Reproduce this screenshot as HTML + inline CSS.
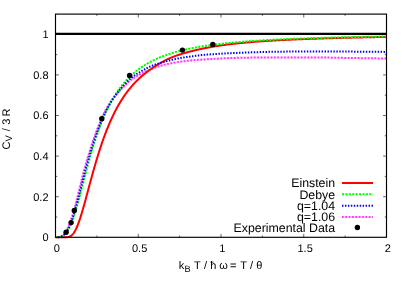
<!DOCTYPE html>
<html>
<head>
<meta charset="utf-8">
<title>Heat capacity</title>
<style>
html,body{margin:0;padding:0;background:#fff;}
body{width:407px;height:285px;overflow:hidden;font-family:"Liberation Sans",sans-serif;}
svg{display:block;}
text{font-family:"Liberation Sans",sans-serif;fill:#000;text-rendering:geometricPrecision;}
</style>
</head>
<body>
<svg width="407" height="285" viewBox="0 0 407 285" style="will-change:transform;transform:translateZ(0)">
<rect x="0" y="0" width="407" height="285" fill="#ffffff"/>
<!-- minor/major ticks -->
<g stroke="#000" stroke-width="0.6" fill="none">
<path d="M55.50 217.00h1.8M386.50 217.00h-1.8"/>
<path d="M55.50 196.70h3.4M386.50 196.70h-3.4"/>
<path d="M55.50 176.40h1.8M386.50 176.40h-1.8"/>
<path d="M55.50 156.10h3.4M386.50 156.10h-3.4"/>
<path d="M55.50 135.80h1.8M386.50 135.80h-1.8"/>
<path d="M55.50 115.50h3.4M386.50 115.50h-3.4"/>
<path d="M55.50 95.20h1.8M386.50 95.20h-1.8"/>
<path d="M55.50 74.90h3.4M386.50 74.90h-3.4"/>
<path d="M55.50 54.60h1.8M386.50 54.60h-1.8"/>
<path d="M55.50 34.30h3.4M386.50 34.30h-3.4"/>
<path d="M96.88 237.30v-1.8M96.88 14.10v1.8"/>
<path d="M138.25 237.30v-3.4M138.25 14.10v3.4"/>
<path d="M179.62 237.30v-1.8M179.62 14.10v1.8"/>
<path d="M221.00 237.30v-3.4M221.00 14.10v3.4"/>
<path d="M262.38 237.30v-1.8M262.38 14.10v1.8"/>
<path d="M303.75 237.30v-3.4M303.75 14.10v3.4"/>
<path d="M345.12 237.30v-1.8M345.12 14.10v1.8"/>
</g>
<!-- curves -->
<g fill="none" stroke-width="2" stroke-linejoin="round">
<path d="M55.50 33.8H386.50" stroke="#000" stroke-width="2.2"/>
<path d="M57.93 237.20L58.40 237.18L58.87 237.11L59.34 237.00L59.81 236.87L60.28 236.70L60.75 236.51L61.22 236.31L61.69 236.09L62.16 235.87L62.63 235.58L63.10 235.20L63.57 234.77L64.04 234.31L64.51 233.77L64.98 233.17L65.45 232.49L65.92 231.73L66.39 230.88L66.86 229.93L67.33 228.86L67.80 227.78L68.27 226.78L68.74 225.73L69.21 224.61L69.68 223.45L70.16 222.22L70.63 220.93L71.10 219.58L71.57 218.18L72.04 216.73L72.51 215.23L72.98 213.69L73.45 212.09L73.92 210.46L74.39 208.78L74.86 207.07L75.33 205.33L75.80 203.55L76.27 201.75L76.74 199.92L77.21 198.08L77.68 196.21L78.15 194.33L78.62 192.44L79.09 190.53L79.56 188.62L80.03 186.71L80.50 184.79L80.97 182.88L81.44 180.97L81.91 179.06L82.38 177.15L82.85 175.26L83.32 173.38L83.79 171.50L84.26 169.64L84.73 167.82L85.20 166.17L85.67 164.54L86.14 162.92L86.61 161.31L87.08 159.72L87.55 158.14L88.02 156.57L88.49 155.02L88.96 153.49L89.43 151.97L89.90 150.46L90.37 148.97L90.84 147.50L91.31 146.05L91.78 144.61L92.25 143.19L92.72 141.78L93.19 140.40L93.66 139.03L94.13 137.67L94.60 136.34L95.07 135.02L95.54 133.72L96.01 132.43L96.48 131.17L96.95 129.92L97.42 128.68L97.89 127.47L98.36 126.27L98.83 125.09L99.30 123.92L99.77 122.77L100.24 121.64L100.71 120.53L101.18 119.43L101.65 118.34L102.12 117.27L102.59 116.22L103.06 115.19L103.53 114.16L104.00 113.15L104.47 112.18L104.94 111.31L105.41 110.48L105.88 109.67L106.35 108.86L106.82 108.06L107.29 107.27L107.76 106.49L108.23 105.72L108.70 104.96L109.17 104.20L109.64 103.46L110.11 102.72L110.58 101.99L111.05 101.26L111.52 100.57L111.99 99.91L112.46 99.29L112.93 98.71L113.40 98.15L113.87 97.58L114.34 97.02L114.81 96.46L115.28 95.90L115.75 95.35L116.22 94.81L116.69 94.27L117.16 93.73L117.63 93.20L118.10 92.68L118.57 92.16L119.04 91.64L119.51 91.13L119.98 90.62L120.45 90.12L120.92 89.62L121.39 89.13L121.86 88.64L122.33 88.16L122.80 87.67L123.27 87.20L123.74 86.73L124.21 86.26L124.68 85.80L125.15 85.34L125.62 84.89L126.09 84.44L126.56 83.99L127.03 83.53L127.50 83.07L127.97 82.60L128.44 82.13L128.91 81.69L129.38 81.27L129.85 80.88L130.32 80.51L130.79 80.16L131.26 79.82L131.73 79.50L132.20 79.18L132.67 78.87L133.14 78.56L133.61 78.26L134.08 77.96L134.55 77.66L135.02 77.36L135.49 77.06L135.96 76.77L136.43 76.47L136.90 76.19L137.37 75.90L137.84 75.62L138.31 75.34L138.78 75.07L139.25 74.81L139.72 74.55L140.19 74.30L140.66 74.05L141.13 73.81L141.60 73.56L142.07 73.33L142.54 73.09L143.01 72.86L143.48 72.63L143.95 72.40L144.42 72.18L144.89 71.96L145.36 71.74L145.83 71.52L146.30 71.31L146.77 71.10L147.24 70.89L147.71 70.68L148.18 70.47L148.65 70.27L149.12 70.07L149.59 69.87L150.06 69.67L150.53 69.48L151.00 69.28L151.47 69.08L151.94 68.89L152.41 68.69L152.88 68.50L153.35 68.31L153.82 68.12L154.29 67.94L154.76 67.75L155.23 67.57L155.70 67.39L156.17 67.22L156.64 67.05L157.11 66.88L157.58 66.72L158.05 66.56L158.52 66.40L158.99 66.25L159.46 66.11L159.93 65.97L160.41 65.84L160.88 65.70L161.35 65.57L161.82 65.44L162.29 65.32L162.76 65.20L163.23 65.08L163.70 64.96L164.17 64.84L164.64 64.73L165.11 64.62L165.58 64.51L166.05 64.40L166.52 64.29L166.99 64.19L167.46 64.08L167.93 63.98L168.40 63.88L168.87 63.78L169.34 63.68L169.81 63.58L170.28 63.48L170.75 63.38L171.22 63.29L171.69 63.19L172.16 63.10L172.63 63.00L173.10 62.91L173.57 62.82L174.04 62.73L174.51 62.64L174.98 62.55L175.45 62.47L175.92 62.38L176.39 62.30L176.86 62.22L177.33 62.14L177.80 62.06L178.27 61.99L178.74 61.91L179.21 61.84L179.68 61.77L180.15 61.71L180.62 61.64L181.09 61.57L181.56 61.51L182.03 61.44L182.50 61.38L182.97 61.32L183.44 61.26L183.91 61.20L184.38 61.14L184.85 61.08L185.32 61.03L185.79 60.97L186.26 60.92L186.73 60.87L187.20 60.81L187.67 60.76L188.14 60.72L188.61 60.67L189.08 60.62L189.55 60.58L190.02 60.53L190.49 60.49L190.96 60.45L191.43 60.40L191.90 60.36L192.37 60.32L192.84 60.28L193.31 60.24L193.78 60.20L194.25 60.16L194.72 60.12L195.19 60.09L195.66 60.05L196.13 60.01L196.60 59.98L197.07 59.94L197.54 59.91L198.01 59.87L198.48 59.84L198.95 59.80L199.42 59.77L199.89 59.74L200.36 59.71L200.83 59.68L201.30 59.65L201.77 59.61L202.24 59.58L202.71 59.55L203.18 59.53L203.65 59.50L204.12 59.47L204.59 59.44L205.06 59.41L205.53 59.38L206.00 59.35L206.47 59.32L206.94 59.30L207.41 59.27L207.88 59.24L208.35 59.21L208.82 59.18L209.29 59.15L209.76 59.12L210.23 59.10L210.70 59.07L211.17 59.04L211.64 59.01L212.11 58.98L212.58 58.95L213.05 58.93L213.52 58.90L213.99 58.87L214.46 58.84L214.93 58.82L215.40 58.79L215.87 58.76L216.34 58.73L216.81 58.71L217.28 58.68L217.75 58.65L218.22 58.63L218.69 58.60L219.16 58.58L219.63 58.55L220.10 58.53L220.57 58.50L221.04 58.48L221.51 58.45L221.98 58.43L222.45 58.40L222.92 58.38L223.39 58.36L223.86 58.33L224.33 58.31L224.80 58.29L225.27 58.27L225.74 58.24L226.21 58.22L226.68 58.20L227.15 58.18L227.62 58.16L228.09 58.14L228.56 58.12L229.03 58.10L229.50 58.08L229.97 58.06L230.44 58.05L230.91 58.03L231.38 58.01L231.85 58.00L232.32 57.98L232.79 57.96L233.26 57.95L233.73 57.93L234.20 57.92L234.67 57.91L235.14 57.89L235.61 57.88L236.08 57.87L236.55 57.86L237.02 57.85L237.49 57.83L237.96 57.83L238.43 57.82L238.90 57.81L239.37 57.80L239.84 57.79L240.31 57.78L240.78 57.78L241.25 57.77L241.72 57.76L242.19 57.75L242.66 57.74L243.13 57.74L243.60 57.73L244.07 57.72L244.54 57.71L245.01 57.71L245.48 57.70L245.95 57.69L246.42 57.68L246.89 57.68L247.36 57.67L247.83 57.66L248.30 57.66L248.77 57.65L249.24 57.64L249.71 57.64L250.18 57.63L250.65 57.62L251.13 57.62L251.60 57.61L252.07 57.60L252.54 57.60L253.01 57.59L253.48 57.58L253.95 57.58L254.42 57.57L254.89 57.56L255.36 57.56L255.83 57.55L256.30 57.55L256.77 57.54L257.24 57.54L257.71 57.53L258.18 57.53L258.65 57.52L259.12 57.51L259.59 57.51L260.06 57.50L260.53 57.50L261.00 57.50L261.47 57.49L261.94 57.49L262.41 57.48L262.88 57.48L263.35 57.47L263.82 57.47L264.29 57.46L264.76 57.46L265.23 57.46L265.70 57.45L266.17 57.45L266.64 57.45L267.11 57.44L267.58 57.44L268.05 57.44L268.52 57.43L268.99 57.43L269.46 57.43L269.93 57.42L270.40 57.42L270.87 57.42L271.34 57.42L271.81 57.42L272.28 57.41L272.75 57.41L273.22 57.41L273.69 57.41L274.16 57.41L274.63 57.41L275.10 57.40L275.57 57.40L276.04 57.40L276.51 57.40L276.98 57.40L277.45 57.40L277.92 57.40L278.39 57.40L278.86 57.40L279.33 57.40L279.80 57.40L280.27 57.40L280.74 57.40L281.21 57.40L281.68 57.40L282.15 57.40L282.62 57.40L283.09 57.40L283.56 57.40L284.03 57.40L284.50 57.40L284.97 57.40L285.44 57.40L285.91 57.40L286.38 57.40L286.85 57.40L287.32 57.40L287.79 57.40L288.26 57.40L288.73 57.40L289.20 57.40L289.67 57.40L290.14 57.40L290.61 57.40L291.08 57.40L291.55 57.40L292.02 57.40L292.49 57.40L292.96 57.40L293.43 57.40L293.90 57.40L294.37 57.40L294.84 57.40L295.31 57.40L295.78 57.40L296.25 57.40L296.72 57.40L297.19 57.40L297.66 57.40L298.13 57.40L298.60 57.40L299.07 57.40L299.54 57.40L300.01 57.40L300.48 57.40L300.95 57.40L301.42 57.40L301.89 57.40L302.36 57.40L302.83 57.40L303.30 57.40L303.77 57.40L304.24 57.40L304.71 57.40L305.18 57.40L305.65 57.40L306.12 57.40L306.59 57.40L307.06 57.40L307.53 57.40L308.00 57.40L308.47 57.40L308.94 57.40L309.41 57.40L309.88 57.40L310.35 57.40L310.82 57.40L311.29 57.40L311.76 57.40L312.23 57.40L312.70 57.41L313.17 57.41L313.64 57.41L314.11 57.41L314.58 57.42L315.05 57.42L315.52 57.42L315.99 57.43L316.46 57.43L316.93 57.43L317.40 57.44L317.87 57.44L318.34 57.45L318.81 57.45L319.28 57.46L319.75 57.46L320.22 57.47L320.69 57.48L321.16 57.48L321.63 57.49L322.10 57.50L322.57 57.50L323.04 57.51L323.51 57.52L323.98 57.52L324.45 57.53L324.92 57.54L325.39 57.55L325.86 57.55L326.33 57.56L326.80 57.57L327.27 57.58L327.74 57.59L328.21 57.60L328.68 57.60L329.15 57.61L329.62 57.62L330.09 57.63L330.56 57.64L331.03 57.65L331.50 57.66L331.97 57.67L332.44 57.68L332.91 57.68L333.38 57.69L333.85 57.70L334.32 57.71L334.79 57.72L335.26 57.73L335.73 57.74L336.20 57.75L336.67 57.76L337.14 57.77L337.61 57.78L338.08 57.79L338.55 57.80L339.02 57.81L339.49 57.82L339.96 57.83L340.43 57.83L340.90 57.84L341.38 57.85L341.85 57.86L342.32 57.87L342.79 57.88L343.26 57.89L343.73 57.90L344.20 57.91L344.67 57.91L345.14 57.92L345.61 57.93L346.08 57.94L346.55 57.95L347.02 57.95L347.49 57.96L347.96 57.97L348.43 57.98L348.90 57.98L349.37 57.99L349.84 58.00L350.31 58.00L350.78 58.01L351.25 58.02L351.72 58.02L352.19 58.03L352.66 58.04L353.13 58.04L353.60 58.05L354.07 58.06L354.54 58.06L355.01 58.07L355.48 58.08L355.95 58.08L356.42 58.09L356.89 58.10L357.36 58.10L357.83 58.11L358.30 58.12L358.77 58.12L359.24 58.13L359.71 58.14L360.18 58.14L360.65 58.15L361.12 58.16L361.59 58.16L362.06 58.17L362.53 58.18L363.00 58.18L363.47 58.19L363.94 58.20L364.41 58.20L364.88 58.21L365.35 58.22L365.82 58.22L366.29 58.23L366.76 58.24L367.23 58.24L367.70 58.25L368.17 58.25L368.64 58.26L369.11 58.27L369.58 58.27L370.05 58.28L370.52 58.29L370.99 58.29L371.46 58.30L371.93 58.31L372.40 58.31L372.87 58.32L373.34 58.32L373.81 58.33L374.28 58.34L374.75 58.34L375.22 58.35L375.69 58.36L376.16 58.36L376.63 58.37L377.10 58.38L377.57 58.38L378.04 58.39L378.51 58.39L378.98 58.40L379.45 58.41L379.92 58.41L380.39 58.42L380.86 58.43L381.33 58.43L381.80 58.44L382.27 58.44L382.74 58.45L383.21 58.46L383.68 58.46L384.15 58.47L384.62 58.48L385.09 58.48L385.56 58.49L386.03 58.49L386.50 58.50" stroke="#ff00ff" stroke-opacity="0.22"/>
<path d="M57.93 237.20L58.40 237.18L58.87 237.11L59.34 237.00L59.81 236.87L60.28 236.70L60.75 236.51L61.22 236.31L61.69 236.09L62.16 235.87L62.63 235.58L63.10 235.20L63.57 234.77L64.04 234.31L64.51 233.77L64.98 233.17L65.45 232.49L65.92 231.73L66.39 230.88L66.86 229.93L67.33 228.86L67.80 227.78L68.27 226.78L68.74 225.73L69.21 224.61L69.68 223.45L70.16 222.22L70.63 220.93L71.10 219.58L71.57 218.18L72.04 216.73L72.51 215.23L72.98 213.69L73.45 212.09L73.92 210.46L74.39 208.78L74.86 207.07L75.33 205.33L75.80 203.55L76.27 201.75L76.74 199.92L77.21 198.08L77.68 196.21L78.15 194.33L78.62 192.44L79.09 190.53L79.56 188.62L80.03 186.71L80.50 184.79L80.97 182.88L81.44 180.97L81.91 179.06L82.38 177.15L82.85 175.26L83.32 173.38L83.79 171.50L84.26 169.64L84.73 167.82L85.20 166.17L85.67 164.54L86.14 162.92L86.61 161.31L87.08 159.72L87.55 158.14L88.02 156.57L88.49 155.02L88.96 153.49L89.43 151.97L89.90 150.46L90.37 148.97L90.84 147.50L91.31 146.05L91.78 144.61L92.25 143.19L92.72 141.78L93.19 140.40L93.66 139.03L94.13 137.67L94.60 136.34L95.07 135.02L95.54 133.72L96.01 132.43L96.48 131.17L96.95 129.92L97.42 128.68L97.89 127.47L98.36 126.27L98.83 125.09L99.30 123.92L99.77 122.77L100.24 121.64L100.71 120.53L101.18 119.43L101.65 118.34L102.12 117.27L102.59 116.22L103.06 115.19L103.53 114.16L104.00 113.15L104.47 112.18L104.94 111.31L105.41 110.48L105.88 109.67L106.35 108.86L106.82 108.06L107.29 107.27L107.76 106.49L108.23 105.72L108.70 104.96L109.17 104.20L109.64 103.46L110.11 102.72L110.58 101.99L111.05 101.26L111.52 100.57L111.99 99.91L112.46 99.29L112.93 98.71L113.40 98.15L113.87 97.58L114.34 97.02L114.81 96.46L115.28 95.90L115.75 95.35L116.22 94.81L116.69 94.27L117.16 93.73L117.63 93.20L118.10 92.68L118.57 92.16L119.04 91.64L119.51 91.13L119.98 90.62L120.45 90.12L120.92 89.62L121.39 89.13L121.86 88.64L122.33 88.16L122.80 87.67L123.27 87.20L123.74 86.73L124.21 86.26L124.68 85.80L125.15 85.34L125.62 84.89L126.09 84.44L126.56 83.99L127.03 83.53L127.50 83.07L127.97 82.60L128.44 82.13L128.91 81.69L129.38 81.27L129.85 80.88L130.32 80.51L130.79 80.16L131.26 79.82L131.73 79.50L132.20 79.18L132.67 78.87L133.14 78.56L133.61 78.26L134.08 77.96L134.55 77.66L135.02 77.36L135.49 77.06L135.96 76.77L136.43 76.47L136.90 76.19L137.37 75.90L137.84 75.62L138.31 75.34L138.78 75.07L139.25 74.81L139.72 74.55L140.19 74.30L140.66 74.05L141.13 73.81L141.60 73.56L142.07 73.33L142.54 73.09L143.01 72.86L143.48 72.63L143.95 72.40L144.42 72.18L144.89 71.96L145.36 71.74L145.83 71.52L146.30 71.31L146.77 71.10L147.24 70.89L147.71 70.68L148.18 70.47L148.65 70.27L149.12 70.07L149.59 69.87L150.06 69.67L150.53 69.48L151.00 69.28L151.47 69.08L151.94 68.89L152.41 68.69L152.88 68.50L153.35 68.31L153.82 68.12L154.29 67.94L154.76 67.75L155.23 67.57L155.70 67.39L156.17 67.22L156.64 67.05L157.11 66.88L157.58 66.72L158.05 66.56L158.52 66.40L158.99 66.25L159.46 66.11L159.93 65.97L160.41 65.84L160.88 65.70L161.35 65.57L161.82 65.44L162.29 65.32L162.76 65.20L163.23 65.08L163.70 64.96L164.17 64.84L164.64 64.73L165.11 64.62L165.58 64.51L166.05 64.40L166.52 64.29L166.99 64.19L167.46 64.08L167.93 63.98L168.40 63.88L168.87 63.78L169.34 63.68L169.81 63.58L170.28 63.48L170.75 63.38L171.22 63.29L171.69 63.19L172.16 63.10L172.63 63.00L173.10 62.91L173.57 62.82L174.04 62.73L174.51 62.64L174.98 62.55L175.45 62.47L175.92 62.38L176.39 62.30L176.86 62.22L177.33 62.14L177.80 62.06L178.27 61.99L178.74 61.91L179.21 61.84L179.68 61.77L180.15 61.71L180.62 61.64L181.09 61.57L181.56 61.51L182.03 61.44L182.50 61.38L182.97 61.32L183.44 61.26L183.91 61.20L184.38 61.14L184.85 61.08L185.32 61.03L185.79 60.97L186.26 60.92L186.73 60.87L187.20 60.81L187.67 60.76L188.14 60.72L188.61 60.67L189.08 60.62L189.55 60.58L190.02 60.53L190.49 60.49L190.96 60.45L191.43 60.40L191.90 60.36L192.37 60.32L192.84 60.28L193.31 60.24L193.78 60.20L194.25 60.16L194.72 60.12L195.19 60.09L195.66 60.05L196.13 60.01L196.60 59.98L197.07 59.94L197.54 59.91L198.01 59.87L198.48 59.84L198.95 59.80L199.42 59.77L199.89 59.74L200.36 59.71L200.83 59.68L201.30 59.65L201.77 59.61L202.24 59.58L202.71 59.55L203.18 59.53L203.65 59.50L204.12 59.47L204.59 59.44L205.06 59.41L205.53 59.38L206.00 59.35L206.47 59.32L206.94 59.30L207.41 59.27L207.88 59.24L208.35 59.21L208.82 59.18L209.29 59.15L209.76 59.12L210.23 59.10L210.70 59.07L211.17 59.04L211.64 59.01L212.11 58.98L212.58 58.95L213.05 58.93L213.52 58.90L213.99 58.87L214.46 58.84L214.93 58.82L215.40 58.79L215.87 58.76L216.34 58.73L216.81 58.71L217.28 58.68L217.75 58.65L218.22 58.63L218.69 58.60L219.16 58.58L219.63 58.55L220.10 58.53L220.57 58.50L221.04 58.48L221.51 58.45L221.98 58.43L222.45 58.40L222.92 58.38L223.39 58.36L223.86 58.33L224.33 58.31L224.80 58.29L225.27 58.27L225.74 58.24L226.21 58.22L226.68 58.20L227.15 58.18L227.62 58.16L228.09 58.14L228.56 58.12L229.03 58.10L229.50 58.08L229.97 58.06L230.44 58.05L230.91 58.03L231.38 58.01L231.85 58.00L232.32 57.98L232.79 57.96L233.26 57.95L233.73 57.93L234.20 57.92L234.67 57.91L235.14 57.89L235.61 57.88L236.08 57.87L236.55 57.86L237.02 57.85L237.49 57.83L237.96 57.83L238.43 57.82L238.90 57.81L239.37 57.80L239.84 57.79L240.31 57.78L240.78 57.78L241.25 57.77L241.72 57.76L242.19 57.75L242.66 57.74L243.13 57.74L243.60 57.73L244.07 57.72L244.54 57.71L245.01 57.71L245.48 57.70L245.95 57.69L246.42 57.68L246.89 57.68L247.36 57.67L247.83 57.66L248.30 57.66L248.77 57.65L249.24 57.64L249.71 57.64L250.18 57.63L250.65 57.62L251.13 57.62L251.60 57.61L252.07 57.60L252.54 57.60L253.01 57.59L253.48 57.58L253.95 57.58L254.42 57.57L254.89 57.56L255.36 57.56L255.83 57.55L256.30 57.55L256.77 57.54L257.24 57.54L257.71 57.53L258.18 57.53L258.65 57.52L259.12 57.51L259.59 57.51L260.06 57.50L260.53 57.50L261.00 57.50L261.47 57.49L261.94 57.49L262.41 57.48L262.88 57.48L263.35 57.47L263.82 57.47L264.29 57.46L264.76 57.46L265.23 57.46L265.70 57.45L266.17 57.45L266.64 57.45L267.11 57.44L267.58 57.44L268.05 57.44L268.52 57.43L268.99 57.43L269.46 57.43L269.93 57.42L270.40 57.42L270.87 57.42L271.34 57.42L271.81 57.42L272.28 57.41L272.75 57.41L273.22 57.41L273.69 57.41L274.16 57.41L274.63 57.41L275.10 57.40L275.57 57.40L276.04 57.40L276.51 57.40L276.98 57.40L277.45 57.40L277.92 57.40L278.39 57.40L278.86 57.40L279.33 57.40L279.80 57.40L280.27 57.40L280.74 57.40L281.21 57.40L281.68 57.40L282.15 57.40L282.62 57.40L283.09 57.40L283.56 57.40L284.03 57.40L284.50 57.40L284.97 57.40L285.44 57.40L285.91 57.40L286.38 57.40L286.85 57.40L287.32 57.40L287.79 57.40L288.26 57.40L288.73 57.40L289.20 57.40L289.67 57.40L290.14 57.40L290.61 57.40L291.08 57.40L291.55 57.40L292.02 57.40L292.49 57.40L292.96 57.40L293.43 57.40L293.90 57.40L294.37 57.40L294.84 57.40L295.31 57.40L295.78 57.40L296.25 57.40L296.72 57.40L297.19 57.40L297.66 57.40L298.13 57.40L298.60 57.40L299.07 57.40L299.54 57.40L300.01 57.40L300.48 57.40L300.95 57.40L301.42 57.40L301.89 57.40L302.36 57.40L302.83 57.40L303.30 57.40L303.77 57.40L304.24 57.40L304.71 57.40L305.18 57.40L305.65 57.40L306.12 57.40L306.59 57.40L307.06 57.40L307.53 57.40L308.00 57.40L308.47 57.40L308.94 57.40L309.41 57.40L309.88 57.40L310.35 57.40L310.82 57.40L311.29 57.40L311.76 57.40L312.23 57.40L312.70 57.41L313.17 57.41L313.64 57.41L314.11 57.41L314.58 57.42L315.05 57.42L315.52 57.42L315.99 57.43L316.46 57.43L316.93 57.43L317.40 57.44L317.87 57.44L318.34 57.45L318.81 57.45L319.28 57.46L319.75 57.46L320.22 57.47L320.69 57.48L321.16 57.48L321.63 57.49L322.10 57.50L322.57 57.50L323.04 57.51L323.51 57.52L323.98 57.52L324.45 57.53L324.92 57.54L325.39 57.55L325.86 57.55L326.33 57.56L326.80 57.57L327.27 57.58L327.74 57.59L328.21 57.60L328.68 57.60L329.15 57.61L329.62 57.62L330.09 57.63L330.56 57.64L331.03 57.65L331.50 57.66L331.97 57.67L332.44 57.68L332.91 57.68L333.38 57.69L333.85 57.70L334.32 57.71L334.79 57.72L335.26 57.73L335.73 57.74L336.20 57.75L336.67 57.76L337.14 57.77L337.61 57.78L338.08 57.79L338.55 57.80L339.02 57.81L339.49 57.82L339.96 57.83L340.43 57.83L340.90 57.84L341.38 57.85L341.85 57.86L342.32 57.87L342.79 57.88L343.26 57.89L343.73 57.90L344.20 57.91L344.67 57.91L345.14 57.92L345.61 57.93L346.08 57.94L346.55 57.95L347.02 57.95L347.49 57.96L347.96 57.97L348.43 57.98L348.90 57.98L349.37 57.99L349.84 58.00L350.31 58.00L350.78 58.01L351.25 58.02L351.72 58.02L352.19 58.03L352.66 58.04L353.13 58.04L353.60 58.05L354.07 58.06L354.54 58.06L355.01 58.07L355.48 58.08L355.95 58.08L356.42 58.09L356.89 58.10L357.36 58.10L357.83 58.11L358.30 58.12L358.77 58.12L359.24 58.13L359.71 58.14L360.18 58.14L360.65 58.15L361.12 58.16L361.59 58.16L362.06 58.17L362.53 58.18L363.00 58.18L363.47 58.19L363.94 58.20L364.41 58.20L364.88 58.21L365.35 58.22L365.82 58.22L366.29 58.23L366.76 58.24L367.23 58.24L367.70 58.25L368.17 58.25L368.64 58.26L369.11 58.27L369.58 58.27L370.05 58.28L370.52 58.29L370.99 58.29L371.46 58.30L371.93 58.31L372.40 58.31L372.87 58.32L373.34 58.32L373.81 58.33L374.28 58.34L374.75 58.34L375.22 58.35L375.69 58.36L376.16 58.36L376.63 58.37L377.10 58.38L377.57 58.38L378.04 58.39L378.51 58.39L378.98 58.40L379.45 58.41L379.92 58.41L380.39 58.42L380.86 58.43L381.33 58.43L381.80 58.44L382.27 58.44L382.74 58.45L383.21 58.46L383.68 58.46L384.15 58.47L384.62 58.48L385.09 58.48L385.56 58.49L386.03 58.49L386.50 58.50" stroke="#ff00ff" stroke-opacity="0.72" stroke-dasharray="1.7 1.65"/>
<path d="M55.50 237.30L55.91 237.30L56.33 237.30L56.74 237.30L57.16 237.30L57.57 237.30L57.98 237.30L58.40 237.30L58.81 237.30L59.22 237.30L59.64 237.30L60.05 237.30L60.47 237.30L60.88 237.30L61.29 237.30L61.71 237.30L62.12 237.30L62.53 237.30L62.95 237.30L63.36 237.30L63.77 237.30L64.19 237.30L64.60 237.29L65.02 237.29L65.43 237.28L65.84 237.27L66.26 237.25L66.67 237.23L67.09 237.19L67.50 237.14L67.91 237.08L68.33 237.00L68.74 236.90L69.15 236.77L69.57 236.62L69.98 236.44L70.39 236.22L70.81 235.97L71.22 235.68L71.64 235.35L72.05 234.98L72.46 234.56L72.88 234.10L73.29 233.58L73.70 233.02L74.12 232.41L74.53 231.75L74.95 231.04L75.36 230.29L75.77 229.48L76.19 228.62L76.60 227.72L77.02 226.77L77.43 225.78L77.84 224.74L78.26 223.66L78.67 222.54L79.08 221.38L79.50 220.19L79.91 218.96L80.33 217.70L80.74 216.40L81.15 215.08L81.57 213.73L81.98 212.35L82.39 210.96L82.81 209.54L83.22 208.10L83.64 206.64L84.05 205.17L84.46 203.69L84.88 202.19L85.29 200.68L85.70 199.16L86.12 197.64L86.53 196.11L86.94 194.57L87.36 193.03L87.77 191.49L88.19 189.95L88.60 188.41L89.01 186.87L89.43 185.33L89.84 183.80L90.25 182.26L90.67 180.74L91.08 179.22L91.50 177.71L91.91 176.20L92.32 174.70L92.74 173.21L93.15 171.73L93.56 170.26L93.98 168.80L94.39 167.35L94.81 165.91L95.22 164.49L95.63 163.07L96.05 161.66L96.46 160.27L96.88 158.89L97.29 157.53L97.70 156.17L98.12 154.83L98.53 153.51L98.94 152.19L99.36 150.89L99.77 149.61L100.19 148.33L100.60 147.07L101.01 145.83L101.43 144.60L101.84 143.38L102.25 142.18L102.67 140.99L103.08 139.81L103.50 138.65L103.91 137.51L104.32 136.37L104.74 135.25L105.15 134.15L105.56 133.05L105.98 131.97L106.39 130.91L106.81 129.86L107.22 128.82L107.63 127.79L108.05 126.78L108.46 125.78L108.87 124.79L109.29 123.81L109.70 122.85L110.12 121.90L110.53 120.97L110.94 120.04L111.36 119.13L111.77 118.22L112.18 117.34L112.60 116.46L113.01 115.59L113.43 114.73L113.84 113.89L114.25 113.06L114.67 112.24L115.08 111.42L115.49 110.62L115.91 109.83L116.32 109.05L116.73 108.28L117.15 107.53L117.56 106.78L117.98 106.04L118.39 105.31L118.80 104.59L119.22 103.88L119.63 103.18L120.05 102.48L120.46 101.80L120.87 101.13L121.29 100.46L121.70 99.81L122.11 99.16L122.53 98.52L122.94 97.89L123.36 97.26L123.77 96.65L124.18 96.04L124.60 95.44L125.01 94.85L125.42 94.27L125.84 93.69L126.25 93.12L126.66 92.56L127.08 92.01L127.49 91.46L127.91 90.92L128.32 90.39L128.73 89.86L129.15 89.34L129.56 88.83L129.98 88.32L130.39 87.82L130.80 87.32L131.22 86.83L131.63 86.35L132.04 85.87L132.46 85.40L132.87 84.94L133.29 84.48L133.70 84.02L134.11 83.57L134.53 83.13L134.94 82.69L135.35 82.26L135.77 81.83L136.18 81.41L136.59 80.99L137.01 80.58L137.42 80.17L137.84 79.77L138.25 79.37L138.66 78.98L139.08 78.59L139.49 78.21L139.91 77.83L140.32 77.45L140.73 77.08L141.15 76.71L141.56 76.35L141.97 75.99L142.39 75.64L142.80 75.28L143.22 74.94L143.63 74.60L144.04 74.26L144.46 73.92L144.87 73.59L145.28 73.26L145.70 72.94L146.11 72.62L146.53 72.30L146.94 71.98L147.35 71.67L147.77 71.36L148.18 71.05L148.59 70.75L149.01 70.44L149.42 70.14L149.84 69.84L150.25 69.55L150.66 69.25L151.08 68.96L151.49 68.67L151.90 68.38L152.32 68.10L152.73 67.82L153.14 67.54L153.56 67.26L153.97 66.98L154.39 66.71L154.80 66.44L155.21 66.18L155.63 65.91L156.04 65.65L156.45 65.39L156.87 65.14L157.28 64.88L157.70 64.63L158.11 64.38L158.52 64.14L158.94 63.90L159.35 63.66L159.76 63.42L160.18 63.18L160.59 62.95L161.01 62.72L161.42 62.48L161.83 62.25L162.25 62.02L162.66 61.79L163.07 61.56L163.49 61.34L163.90 61.12L164.32 60.89L164.73 60.67L165.14 60.46L165.56 60.24L165.97 60.03L166.38 59.82L166.80 59.62L167.21 59.41L167.63 59.21L168.04 59.01L168.45 58.82L168.87 58.63L169.28 58.44L169.69 58.26L170.11 58.08L170.52 57.90L170.94 57.73L171.35 57.56L171.76 57.39L172.18 57.22L172.59 57.06L173.00 56.90L173.42 56.74L173.83 56.58L174.25 56.43L174.66 56.28L175.07 56.12L175.49 55.97L175.90 55.83L176.31 55.68L176.73 55.53L177.14 55.39L177.56 55.25L177.97 55.11L178.38 54.97L178.80 54.83L179.21 54.70L179.62 54.56L180.04 54.43L180.45 54.30L180.87 54.16L181.28 54.03L181.69 53.91L182.11 53.78L182.52 53.65L182.94 53.53L183.35 53.40L183.76 53.28L184.18 53.16L184.59 53.04L185.00 52.92L185.42 52.80L185.83 52.68L186.25 52.57L186.66 52.45L187.07 52.33L187.49 52.22L187.90 52.11L188.31 51.99L188.73 51.88L189.14 51.77L189.56 51.66L189.97 51.55L190.38 51.44L190.80 51.34L191.21 51.23L191.62 51.13L192.04 51.02L192.45 50.92L192.87 50.82L193.28 50.71L193.69 50.61L194.11 50.51L194.52 50.41L194.93 50.32L195.35 50.22L195.76 50.12L196.17 50.03L196.59 49.93L197.00 49.84L197.42 49.74L197.83 49.65L198.24 49.56L198.66 49.47L199.07 49.38L199.48 49.29L199.90 49.20L200.31 49.11L200.73 49.02L201.14 48.93L201.55 48.85L201.97 48.76L202.38 48.68L202.80 48.59L203.21 48.51L203.62 48.43L204.04 48.34L204.45 48.26L204.86 48.18L205.28 48.10L205.69 48.02L206.11 47.94L206.52 47.86L206.93 47.78L207.35 47.71L207.76 47.63L208.17 47.55L208.59 47.48L209.00 47.40L209.42 47.33L209.83 47.25L210.24 47.18L210.66 47.10L211.07 47.03L211.48 46.96L211.90 46.89L212.31 46.81L212.73 46.74L213.14 46.67L213.55 46.60L213.97 46.53L214.38 46.47L214.79 46.40L215.21 46.33L215.62 46.26L216.03 46.19L216.45 46.13L216.86 46.06L217.28 46.00L217.69 45.93L218.10 45.87L218.52 45.80L218.93 45.74L219.34 45.68L219.76 45.62L220.17 45.55L220.59 45.49L221.00 45.43L221.41 45.37L221.83 45.31L222.24 45.25L222.66 45.19L223.07 45.13L223.48 45.08L223.90 45.02L224.31 44.96L224.72 44.91L225.14 44.85L225.55 44.79L225.97 44.74L226.38 44.68L226.79 44.63L227.21 44.58L227.62 44.52L228.03 44.47L228.45 44.42L228.86 44.36L229.28 44.31L229.69 44.26L230.10 44.21L230.52 44.16L230.93 44.11L231.34 44.06L231.76 44.01L232.17 43.97L232.59 43.92L233.00 43.87L233.41 43.82L233.83 43.78L234.24 43.73L234.65 43.68L235.07 43.64L235.48 43.59L235.90 43.55L236.31 43.50L236.72 43.46L237.14 43.42L237.55 43.37L237.96 43.33L238.38 43.29L238.79 43.25L239.21 43.21L239.62 43.16L240.03 43.12L240.45 43.08L240.86 43.04L241.27 43.00L241.69 42.96L242.10 42.92L242.52 42.88L242.93 42.84L243.34 42.80L243.76 42.76L244.17 42.73L244.58 42.69L245.00 42.65L245.41 42.61L245.83 42.57L246.24 42.54L246.65 42.50L247.07 42.46L247.48 42.43L247.89 42.39L248.31 42.36L248.72 42.32L249.13 42.28L249.55 42.25L249.96 42.21L250.38 42.18L250.79 42.14L251.20 42.11L251.62 42.07L252.03 42.04L252.44 42.01L252.86 41.97L253.27 41.94L253.69 41.91L254.10 41.87L254.51 41.84L254.93 41.81L255.34 41.78L255.75 41.74L256.17 41.71L256.58 41.68L257.00 41.65L257.41 41.62L257.82 41.59L258.24 41.56L258.65 41.53L259.06 41.49L259.48 41.46L259.89 41.43L260.31 41.40L260.72 41.37L261.13 41.35L261.55 41.32L261.96 41.29L262.38 41.26L262.79 41.23L263.20 41.20L263.62 41.17L264.03 41.14L264.44 41.12L264.86 41.09L265.27 41.06L265.69 41.03L266.10 41.00L266.51 40.98L266.93 40.95L267.34 40.92L267.75 40.90L268.17 40.87L268.58 40.84L269.00 40.82L269.41 40.79L269.82 40.76L270.24 40.74L270.65 40.71L271.06 40.69L271.48 40.66L271.89 40.64L272.31 40.61L272.72 40.59L273.13 40.56L273.55 40.54L273.96 40.51L274.37 40.49L274.79 40.47L275.20 40.44L275.62 40.42L276.03 40.39L276.44 40.37L276.86 40.35L277.27 40.32L277.68 40.30L278.10 40.28L278.51 40.25L278.93 40.23L279.34 40.21L279.75 40.19L280.17 40.16L280.58 40.14L280.99 40.12L281.41 40.10L281.82 40.08L282.24 40.06L282.65 40.03L283.06 40.01L283.48 39.99L283.89 39.97L284.30 39.95L284.72 39.93L285.13 39.91L285.55 39.89L285.96 39.87L286.37 39.85L286.79 39.83L287.20 39.81L287.61 39.79L288.03 39.77L288.44 39.75L288.86 39.73L289.27 39.71L289.68 39.69L290.10 39.67L290.51 39.65L290.92 39.63L291.34 39.61L291.75 39.59L292.16 39.57L292.58 39.55L292.99 39.54L293.41 39.52L293.82 39.50L294.23 39.48L294.65 39.46L295.06 39.44L295.48 39.43L295.89 39.41L296.30 39.39L296.72 39.37L297.13 39.36L297.54 39.34L297.96 39.32L298.37 39.30L298.78 39.29L299.20 39.27L299.61 39.25L300.03 39.24L300.44 39.22L300.85 39.20L301.27 39.19L301.68 39.17L302.10 39.15L302.51 39.14L302.92 39.12L303.34 39.10L303.75 39.09L304.16 39.07L304.58 39.06L304.99 39.04L305.40 39.02L305.82 39.01L306.23 38.99L306.65 38.98L307.06 38.96L307.47 38.95L307.89 38.93L308.30 38.92L308.72 38.90L309.13 38.88L309.54 38.87L309.96 38.85L310.37 38.84L310.78 38.83L311.20 38.81L311.61 38.80L312.03 38.78L312.44 38.77L312.85 38.75L313.27 38.74L313.68 38.72L314.09 38.71L314.51 38.70L314.92 38.68L315.34 38.67L315.75 38.65L316.16 38.64L316.58 38.63L316.99 38.61L317.40 38.60L317.82 38.58L318.23 38.57L318.65 38.56L319.06 38.54L319.47 38.53L319.89 38.52L320.30 38.50L320.71 38.49L321.13 38.48L321.54 38.46L321.96 38.45L322.37 38.44L322.78 38.42L323.20 38.41L323.61 38.40L324.02 38.39L324.44 38.37L324.85 38.36L325.27 38.35L325.68 38.34L326.09 38.32L326.51 38.31L326.92 38.30L327.33 38.29L327.75 38.27L328.16 38.26L328.58 38.25L328.99 38.24L329.40 38.22L329.82 38.21L330.23 38.20L330.64 38.19L331.06 38.18L331.47 38.16L331.88 38.15L332.30 38.14L332.71 38.13L333.13 38.12L333.54 38.11L333.95 38.09L334.37 38.08L334.78 38.07L335.19 38.06L335.61 38.05L336.02 38.04L336.44 38.03L336.85 38.01L337.26 38.00L337.68 37.99L338.09 37.98L338.50 37.97L338.92 37.96L339.33 37.95L339.75 37.94L340.16 37.93L340.57 37.91L340.99 37.90L341.40 37.89L341.81 37.88L342.23 37.87L342.64 37.86L343.06 37.85L343.47 37.84L343.88 37.83L344.30 37.82L344.71 37.81L345.12 37.80L345.54 37.79L345.95 37.78L346.37 37.76L346.78 37.75L347.19 37.74L347.61 37.73L348.02 37.72L348.44 37.71L348.85 37.70L349.26 37.69L349.68 37.68L350.09 37.67L350.50 37.66L350.92 37.65L351.33 37.64L351.75 37.63L352.16 37.62L352.57 37.61L352.99 37.60L353.40 37.59L353.81 37.58L354.23 37.57L354.64 37.56L355.06 37.55L355.47 37.54L355.88 37.53L356.30 37.52L356.71 37.51L357.12 37.51L357.54 37.50L357.95 37.49L358.37 37.48L358.78 37.47L359.19 37.46L359.61 37.45L360.02 37.44L360.43 37.43L360.85 37.42L361.26 37.41L361.68 37.40L362.09 37.39L362.50 37.38L362.92 37.38L363.33 37.37L363.74 37.36L364.16 37.35L364.57 37.34L364.99 37.33L365.40 37.32L365.81 37.31L366.23 37.30L366.64 37.30L367.05 37.29L367.47 37.28L367.88 37.27L368.30 37.26L368.71 37.25L369.12 37.24L369.54 37.24L369.95 37.23L370.36 37.22L370.78 37.21L371.19 37.20L371.61 37.19L372.02 37.19L372.43 37.18L372.85 37.17L373.26 37.16L373.67 37.15L374.09 37.15L374.50 37.14L374.91 37.13L375.33 37.12L375.74 37.11L376.16 37.11L376.57 37.10L376.98 37.09L377.40 37.08L377.81 37.07L378.22 37.07L378.64 37.06L379.05 37.05L379.47 37.04L379.88 37.04L380.29 37.03L380.71 37.02L381.12 37.01L381.53 37.00L381.95 37.00L382.36 36.99L382.78 36.98L383.19 36.97L383.60 36.97L384.02 36.96L384.43 36.95L384.84 36.95L385.26 36.94L385.67 36.93L386.09 36.92L386.50 36.92" stroke="#ff0000"/>
<path d="M55.50 237.30L55.91 237.30L56.33 237.30L56.74 237.29L57.16 237.28L57.57 237.27L57.98 237.25L58.40 237.22L58.81 237.17L59.22 237.12L59.64 237.05L60.05 236.97L60.47 236.87L60.88 236.76L61.29 236.62L61.71 236.46L62.12 236.29L62.53 236.08L62.95 235.86L63.36 235.60L63.77 235.32L64.19 235.01L64.60 234.66L65.02 234.29L65.43 233.88L65.84 233.43L66.26 232.95L66.67 232.43L67.09 231.87L67.50 231.27L67.91 230.63L68.33 229.95L68.74 229.23L69.15 228.46L69.57 227.65L69.98 226.80L70.39 225.90L70.81 224.96L71.22 223.98L71.64 222.95L72.05 221.89L72.46 220.78L72.88 219.63L73.29 218.45L73.70 217.23L74.12 215.97L74.53 214.68L74.95 213.35L75.36 212.00L75.77 210.62L76.19 209.21L76.60 207.77L77.02 206.31L77.43 204.83L77.84 203.33L78.26 201.81L78.67 200.27L79.08 198.72L79.50 197.16L79.91 195.58L80.33 194.00L80.74 192.41L81.15 190.81L81.57 189.20L81.98 187.60L82.39 185.99L82.81 184.38L83.22 182.77L83.64 181.16L84.05 179.55L84.46 177.95L84.88 176.36L85.29 174.77L85.70 173.18L86.12 171.61L86.53 170.04L86.94 168.48L87.36 166.94L87.77 165.40L88.19 163.87L88.60 162.36L89.01 160.85L89.43 159.36L89.84 157.89L90.25 156.42L90.67 154.97L91.08 153.54L91.50 152.12L91.91 150.71L92.32 149.32L92.74 147.94L93.15 146.58L93.56 145.24L93.98 143.91L94.39 142.59L94.81 141.29L95.22 140.01L95.63 138.74L96.05 137.49L96.46 136.25L96.88 135.03L97.29 133.82L97.70 132.63L98.12 131.46L98.53 130.30L98.94 129.15L99.36 128.03L99.77 126.91L100.19 125.81L100.60 124.73L101.01 123.66L101.43 122.61L101.84 121.57L102.25 120.54L102.67 119.53L103.08 118.53L103.50 117.55L103.91 116.58L104.32 115.63L104.74 114.68L105.15 113.75L105.56 112.84L105.98 111.94L106.39 111.05L106.81 110.17L107.22 109.30L107.63 108.45L108.05 107.61L108.46 106.78L108.87 105.97L109.29 105.16L109.70 104.37L110.12 103.59L110.53 102.82L110.94 102.06L111.36 101.31L111.77 100.57L112.18 99.84L112.60 99.12L113.01 98.42L113.43 97.72L113.84 97.03L114.25 96.36L114.67 95.69L115.08 95.03L115.49 94.38L115.91 93.74L116.32 93.11L116.73 92.49L117.15 91.87L117.56 91.27L117.98 90.67L118.39 90.09L118.80 89.51L119.22 88.93L119.63 88.37L120.05 87.82L120.46 87.27L120.87 86.73L121.29 86.19L121.70 85.67L122.11 85.15L122.53 84.64L122.94 84.13L123.36 83.64L123.77 83.15L124.18 82.66L124.60 82.18L125.01 81.71L125.42 81.25L125.84 80.79L126.25 80.34L126.66 79.89L127.08 79.45L127.49 79.02L127.91 78.59L128.32 78.16L128.73 77.75L129.15 77.33L129.56 76.93L129.98 76.53L130.39 76.13L130.80 75.74L131.22 75.35L131.63 74.97L132.04 74.60L132.46 74.22L132.87 73.86L133.29 73.50L133.70 73.14L134.11 72.79L134.53 72.44L134.94 72.09L135.35 71.76L135.77 71.42L136.18 71.09L136.59 70.76L137.01 70.44L137.42 70.12L137.84 69.81L138.25 69.49L138.66 69.19L139.08 68.88L139.49 68.58L139.91 68.29L140.32 68.00L140.73 67.71L141.15 67.42L141.56 67.14L141.97 66.86L142.39 66.59L142.80 66.31L143.22 66.04L143.63 65.78L144.04 65.52L144.46 65.26L144.87 65.00L145.28 64.75L145.70 64.50L146.11 64.25L146.53 64.01L146.94 63.76L147.35 63.52L147.77 63.29L148.18 63.06L148.59 62.82L149.01 62.60L149.42 62.37L149.84 62.15L150.25 61.93L150.66 61.71L151.08 61.49L151.49 61.28L151.90 61.07L152.32 60.86L152.73 60.65L153.14 60.45L153.56 60.25L153.97 60.05L154.39 59.85L154.80 59.66L155.21 59.46L155.63 59.27L156.04 59.08L156.45 58.90L156.87 58.71L157.28 58.53L157.70 58.35L158.11 58.17L158.52 57.99L158.94 57.82L159.35 57.65L159.76 57.47L160.18 57.30L160.59 57.14L161.01 56.97L161.42 56.81L161.83 56.64L162.25 56.48L162.66 56.32L163.07 56.16L163.49 56.01L163.90 55.85L164.32 55.70L164.73 55.55L165.14 55.40L165.56 55.25L165.97 55.10L166.38 54.96L166.80 54.82L167.21 54.67L167.63 54.53L168.04 54.39L168.45 54.25L168.87 54.12L169.28 53.98L169.69 53.85L170.11 53.71L170.52 53.58L170.94 53.45L171.35 53.32L171.76 53.20L172.18 53.07L172.59 52.94L173.00 52.82L173.42 52.70L173.83 52.57L174.25 52.45L174.66 52.33L175.07 52.22L175.49 52.10L175.90 51.98L176.31 51.87L176.73 51.75L177.14 51.64L177.56 51.53L177.97 51.42L178.38 51.31L178.80 51.20L179.21 51.09L179.62 50.98L180.04 50.88L180.45 50.77L180.87 50.67L181.28 50.57L181.69 50.46L182.11 50.36L182.52 50.26L182.94 50.16L183.35 50.06L183.76 49.97L184.18 49.87L184.59 49.77L185.00 49.68L185.42 49.59L185.83 49.49L186.25 49.40L186.66 49.31L187.07 49.22L187.49 49.13L187.90 49.04L188.31 48.95L188.73 48.86L189.14 48.77L189.56 48.69L189.97 48.60L190.38 48.52L190.80 48.43L191.21 48.35L191.62 48.27L192.04 48.19L192.45 48.10L192.87 48.02L193.28 47.94L193.69 47.86L194.11 47.79L194.52 47.71L194.93 47.63L195.35 47.55L195.76 47.48L196.17 47.40L196.59 47.33L197.00 47.25L197.42 47.18L197.83 47.11L198.24 47.03L198.66 46.96L199.07 46.89L199.48 46.82L199.90 46.75L200.31 46.68L200.73 46.61L201.14 46.54L201.55 46.48L201.97 46.41L202.38 46.34L202.80 46.28L203.21 46.21L203.62 46.15L204.04 46.08L204.45 46.02L204.86 45.95L205.28 45.89L205.69 45.83L206.11 45.76L206.52 45.70L206.93 45.64L207.35 45.58L207.76 45.52L208.17 45.46L208.59 45.40L209.00 45.34L209.42 45.28L209.83 45.23L210.24 45.17L210.66 45.11L211.07 45.05L211.48 45.00L211.90 44.94L212.31 44.89L212.73 44.83L213.14 44.78L213.55 44.72L213.97 44.67L214.38 44.62L214.79 44.56L215.21 44.51L215.62 44.46L216.03 44.41L216.45 44.35L216.86 44.30L217.28 44.25L217.69 44.20L218.10 44.15L218.52 44.10L218.93 44.05L219.34 44.01L219.76 43.96L220.17 43.91L220.59 43.86L221.00 43.81L221.41 43.77L221.83 43.72L222.24 43.67L222.66 43.63L223.07 43.58L223.48 43.53L223.90 43.49L224.31 43.44L224.72 43.40L225.14 43.36L225.55 43.31L225.97 43.27L226.38 43.22L226.79 43.18L227.21 43.14L227.62 43.10L228.03 43.05L228.45 43.01L228.86 42.97L229.28 42.93L229.69 42.89L230.10 42.85L230.52 42.81L230.93 42.77L231.34 42.73L231.76 42.69L232.17 42.65L232.59 42.61L233.00 42.57L233.41 42.53L233.83 42.49L234.24 42.45L234.65 42.42L235.07 42.38L235.48 42.34L235.90 42.31L236.31 42.27L236.72 42.23L237.14 42.20L237.55 42.16L237.96 42.12L238.38 42.09L238.79 42.05L239.21 42.02L239.62 41.98L240.03 41.95L240.45 41.91L240.86 41.88L241.27 41.84L241.69 41.81L242.10 41.78L242.52 41.74L242.93 41.71L243.34 41.68L243.76 41.64L244.17 41.61L244.58 41.58L245.00 41.55L245.41 41.52L245.83 41.48L246.24 41.45L246.65 41.42L247.07 41.39L247.48 41.36L247.89 41.33L248.31 41.30L248.72 41.27L249.13 41.24L249.55 41.21L249.96 41.18L250.38 41.15L250.79 41.12L251.20 41.09L251.62 41.06L252.03 41.03L252.44 41.00L252.86 40.97L253.27 40.94L253.69 40.92L254.10 40.89L254.51 40.86L254.93 40.83L255.34 40.80L255.75 40.78L256.17 40.75L256.58 40.72L257.00 40.70L257.41 40.67L257.82 40.64L258.24 40.62L258.65 40.59L259.06 40.56L259.48 40.54L259.89 40.51L260.31 40.49L260.72 40.46L261.13 40.44L261.55 40.41L261.96 40.38L262.38 40.36L262.79 40.33L263.20 40.31L263.62 40.29L264.03 40.26L264.44 40.24L264.86 40.21L265.27 40.19L265.69 40.17L266.10 40.14L266.51 40.12L266.93 40.09L267.34 40.07L267.75 40.05L268.17 40.03L268.58 40.00L269.00 39.98L269.41 39.96L269.82 39.93L270.24 39.91L270.65 39.89L271.06 39.87L271.48 39.85L271.89 39.82L272.31 39.80L272.72 39.78L273.13 39.76L273.55 39.74L273.96 39.72L274.37 39.70L274.79 39.67L275.20 39.65L275.62 39.63L276.03 39.61L276.44 39.59L276.86 39.57L277.27 39.55L277.68 39.53L278.10 39.51L278.51 39.49L278.93 39.47L279.34 39.45L279.75 39.43L280.17 39.41L280.58 39.39L280.99 39.37L281.41 39.35L281.82 39.33L282.24 39.31L282.65 39.30L283.06 39.28L283.48 39.26L283.89 39.24L284.30 39.22L284.72 39.20L285.13 39.18L285.55 39.17L285.96 39.15L286.37 39.13L286.79 39.11L287.20 39.09L287.61 39.08L288.03 39.06L288.44 39.04L288.86 39.02L289.27 39.01L289.68 38.99L290.10 38.97L290.51 38.95L290.92 38.94L291.34 38.92L291.75 38.90L292.16 38.89L292.58 38.87L292.99 38.85L293.41 38.84L293.82 38.82L294.23 38.80L294.65 38.79L295.06 38.77L295.48 38.75L295.89 38.74L296.30 38.72L296.72 38.71L297.13 38.69L297.54 38.67L297.96 38.66L298.37 38.64L298.78 38.63L299.20 38.61L299.61 38.60L300.03 38.58L300.44 38.57L300.85 38.55L301.27 38.54L301.68 38.52L302.10 38.51L302.51 38.49L302.92 38.48L303.34 38.46L303.75 38.45L304.16 38.43L304.58 38.42L304.99 38.40L305.40 38.39L305.82 38.37L306.23 38.36L306.65 38.35L307.06 38.33L307.47 38.32L307.89 38.30L308.30 38.29L308.72 38.28L309.13 38.26L309.54 38.25L309.96 38.24L310.37 38.22L310.78 38.21L311.20 38.20L311.61 38.18L312.03 38.17L312.44 38.16L312.85 38.14L313.27 38.13L313.68 38.12L314.09 38.10L314.51 38.09L314.92 38.08L315.34 38.06L315.75 38.05L316.16 38.04L316.58 38.03L316.99 38.01L317.40 38.00L317.82 37.99L318.23 37.98L318.65 37.96L319.06 37.95L319.47 37.94L319.89 37.93L320.30 37.92L320.71 37.90L321.13 37.89L321.54 37.88L321.96 37.87L322.37 37.86L322.78 37.84L323.20 37.83L323.61 37.82L324.02 37.81L324.44 37.80L324.85 37.79L325.27 37.78L325.68 37.76L326.09 37.75L326.51 37.74L326.92 37.73L327.33 37.72L327.75 37.71L328.16 37.70L328.58 37.69L328.99 37.67L329.40 37.66L329.82 37.65L330.23 37.64L330.64 37.63L331.06 37.62L331.47 37.61L331.88 37.60L332.30 37.59L332.71 37.58L333.13 37.57L333.54 37.56L333.95 37.55L334.37 37.54L334.78 37.53L335.19 37.52L335.61 37.50L336.02 37.49L336.44 37.48L336.85 37.47L337.26 37.46L337.68 37.45L338.09 37.44L338.50 37.43L338.92 37.42L339.33 37.41L339.75 37.40L340.16 37.39L340.57 37.39L340.99 37.38L341.40 37.37L341.81 37.36L342.23 37.35L342.64 37.34L343.06 37.33L343.47 37.32L343.88 37.31L344.30 37.30L344.71 37.29L345.12 37.28L345.54 37.27L345.95 37.26L346.37 37.25L346.78 37.24L347.19 37.24L347.61 37.23L348.02 37.22L348.44 37.21L348.85 37.20L349.26 37.19L349.68 37.18L350.09 37.17L350.50 37.16L350.92 37.15L351.33 37.15L351.75 37.14L352.16 37.13L352.57 37.12L352.99 37.11L353.40 37.10L353.81 37.09L354.23 37.09L354.64 37.08L355.06 37.07L355.47 37.06L355.88 37.05L356.30 37.04L356.71 37.04L357.12 37.03L357.54 37.02L357.95 37.01L358.37 37.00L358.78 37.00L359.19 36.99L359.61 36.98L360.02 36.97L360.43 36.96L360.85 36.96L361.26 36.95L361.68 36.94L362.09 36.93L362.50 36.92L362.92 36.92L363.33 36.91L363.74 36.90L364.16 36.89L364.57 36.89L364.99 36.88L365.40 36.87L365.81 36.86L366.23 36.85L366.64 36.85L367.05 36.84L367.47 36.83L367.88 36.82L368.30 36.82L368.71 36.81L369.12 36.80L369.54 36.80L369.95 36.79L370.36 36.78L370.78 36.77L371.19 36.77L371.61 36.76L372.02 36.75L372.43 36.75L372.85 36.74L373.26 36.73L373.67 36.72L374.09 36.72L374.50 36.71L374.91 36.70L375.33 36.70L375.74 36.69L376.16 36.68L376.57 36.68L376.98 36.67L377.40 36.66L377.81 36.66L378.22 36.65L378.64 36.64L379.05 36.63L379.47 36.63L379.88 36.62L380.29 36.62L380.71 36.61L381.12 36.60L381.53 36.60L381.95 36.59L382.36 36.58L382.78 36.58L383.19 36.57L383.60 36.56L384.02 36.56L384.43 36.55L384.84 36.54L385.26 36.54L385.67 36.53L386.09 36.52L386.50 36.52" stroke="#00ff00" stroke-dasharray="2.2 1.2"/>
<path d="M58.24 237.20L58.71 237.18L59.18 237.11L59.65 237.01L60.12 236.88L60.59 236.72L61.06 236.53L61.53 236.34L62.00 236.13L62.47 235.91L62.94 235.65L63.41 235.31L63.88 234.91L64.35 234.49L64.81 234.02L65.28 233.49L65.75 232.91L66.22 232.26L66.69 231.56L67.16 230.79L67.63 229.95L68.10 229.03L68.57 228.05L69.04 227.08L69.51 226.06L69.98 224.99L70.45 223.86L70.92 222.67L71.39 221.43L71.86 220.13L72.33 218.78L72.80 217.38L73.27 215.94L73.74 214.44L74.21 212.91L74.68 211.33L75.15 209.72L75.62 208.07L76.09 206.39L76.56 204.67L77.02 202.93L77.49 201.17L77.96 199.38L78.43 197.58L78.90 195.76L79.37 193.93L79.84 192.08L80.31 190.23L80.78 188.37L81.25 186.51L81.72 184.65L82.19 182.79L82.66 180.93L83.13 179.07L83.60 177.22L84.07 175.37L84.54 173.54L85.01 171.71L85.48 169.90L85.95 168.11L86.42 166.41L86.89 164.74L87.36 163.08L87.83 161.43L88.30 159.80L88.77 158.18L89.23 156.58L89.70 154.99L90.17 153.42L90.64 151.86L91.11 150.33L91.58 148.81L92.05 147.31L92.52 145.82L92.99 144.36L93.46 142.91L93.93 141.48L94.40 140.07L94.87 138.67L95.34 137.30L95.81 135.94L96.28 134.60L96.75 133.28L97.22 131.98L97.69 130.69L98.16 129.43L98.63 128.18L99.10 126.95L99.57 125.74L100.04 124.55L100.51 123.37L100.97 122.21L101.44 121.07L101.91 119.94L102.38 118.83L102.85 117.74L103.32 116.67L103.79 115.61L104.26 114.56L104.73 113.54L105.20 112.52L105.67 111.57L106.14 110.66L106.61 109.76L107.08 108.88L107.55 108.01L108.02 107.15L108.49 106.30L108.96 105.46L109.43 104.64L109.90 103.82L110.37 103.02L110.84 102.23L111.31 101.44L111.78 100.68L112.25 99.94L112.72 99.23L113.18 98.55L113.65 97.88L114.12 97.22L114.59 96.56L115.06 95.91L115.53 95.27L116.00 94.63L116.47 94.01L116.94 93.39L117.41 92.77L117.88 92.17L118.35 91.57L118.82 90.98L119.29 90.40L119.76 89.82L120.23 89.25L120.70 88.69L121.17 88.13L121.64 87.58L122.11 87.04L122.58 86.51L123.05 85.98L123.52 85.45L123.99 84.94L124.46 84.42L124.93 83.92L125.39 83.43L125.86 82.94L126.33 82.45L126.80 81.97L127.27 81.49L127.74 81.02L128.21 80.57L128.68 80.12L129.15 79.69L129.62 79.27L130.09 78.87L130.56 78.47L131.03 78.09L131.50 77.72L131.97 77.35L132.44 77.00L132.91 76.65L133.38 76.30L133.85 75.96L134.32 75.63L134.79 75.30L135.26 74.98L135.73 74.67L136.20 74.36L136.67 74.05L137.14 73.75L137.60 73.45L138.07 73.16L138.54 72.87L139.01 72.59L139.48 72.31L139.95 72.03L140.42 71.75L140.89 71.47L141.36 71.20L141.83 70.92L142.30 70.65L142.77 70.37L143.24 70.10L143.71 69.83L144.18 69.56L144.65 69.30L145.12 69.04L145.59 68.78L146.06 68.52L146.53 68.27L147.00 68.03L147.47 67.79L147.94 67.55L148.41 67.33L148.88 67.10L149.35 66.89L149.81 66.68L150.28 66.48L150.75 66.28L151.22 66.09L151.69 65.90L152.16 65.71L152.63 65.53L153.10 65.35L153.57 65.18L154.04 65.01L154.51 64.84L154.98 64.67L155.45 64.51L155.92 64.35L156.39 64.19L156.86 64.04L157.33 63.88L157.80 63.73L158.27 63.58L158.74 63.43L159.21 63.28L159.68 63.14L160.15 62.99L160.62 62.85L161.09 62.71L161.56 62.57L162.02 62.43L162.49 62.30L162.96 62.17L163.43 62.03L163.90 61.90L164.37 61.77L164.84 61.65L165.31 61.52L165.78 61.40L166.25 61.27L166.72 61.15L167.19 61.03L167.66 60.91L168.13 60.79L168.60 60.67L169.07 60.56L169.54 60.44L170.01 60.32L170.48 60.21L170.95 60.09L171.42 59.98L171.89 59.86L172.36 59.75L172.83 59.64L173.30 59.53L173.77 59.42L174.23 59.31L174.70 59.20L175.17 59.09L175.64 58.99L176.11 58.88L176.58 58.78L177.05 58.68L177.52 58.58L177.99 58.49L178.46 58.40L178.93 58.31L179.40 58.22L179.87 58.13L180.34 58.05L180.81 57.97L181.28 57.89L181.75 57.81L182.22 57.74L182.69 57.66L183.16 57.59L183.63 57.51L184.10 57.44L184.57 57.37L185.04 57.30L185.51 57.23L185.98 57.17L186.44 57.10L186.91 57.03L187.38 56.97L187.85 56.90L188.32 56.84L188.79 56.77L189.26 56.71L189.73 56.64L190.20 56.57L190.67 56.51L191.14 56.44L191.61 56.37L192.08 56.31L192.55 56.24L193.02 56.18L193.49 56.11L193.96 56.04L194.43 55.98L194.90 55.91L195.37 55.85L195.84 55.78L196.31 55.72L196.78 55.66L197.25 55.60L197.72 55.54L198.18 55.48L198.65 55.42L199.12 55.36L199.59 55.31L200.06 55.25L200.53 55.20L201.00 55.15L201.47 55.10L201.94 55.05L202.41 55.01L202.88 54.96L203.35 54.92L203.82 54.88L204.29 54.84L204.76 54.80L205.23 54.76L205.70 54.73L206.17 54.69L206.64 54.65L207.11 54.61L207.58 54.58L208.05 54.54L208.52 54.50L208.99 54.47L209.46 54.43L209.93 54.40L210.39 54.36L210.86 54.33L211.33 54.30L211.80 54.26L212.27 54.23L212.74 54.20L213.21 54.16L213.68 54.13L214.15 54.10L214.62 54.07L215.09 54.04L215.56 54.01L216.03 53.97L216.50 53.94L216.97 53.91L217.44 53.88L217.91 53.86L218.38 53.83L218.85 53.80L219.32 53.77L219.79 53.74L220.26 53.71L220.73 53.68L221.20 53.66L221.67 53.63L222.14 53.60L222.60 53.58L223.07 53.55L223.54 53.53L224.01 53.50L224.48 53.47L224.95 53.45L225.42 53.42L225.89 53.40L226.36 53.38L226.83 53.35L227.30 53.33L227.77 53.30L228.24 53.28L228.71 53.26L229.18 53.23L229.65 53.21L230.12 53.19L230.59 53.17L231.06 53.15L231.53 53.12L232.00 53.10L232.47 53.08L232.94 53.06L233.41 53.04L233.88 53.02L234.35 53.00L234.81 52.98L235.28 52.96L235.75 52.94L236.22 52.92L236.69 52.90L237.16 52.88L237.63 52.86L238.10 52.85L238.57 52.83L239.04 52.81L239.51 52.79L239.98 52.77L240.45 52.76L240.92 52.74L241.39 52.72L241.86 52.70L242.33 52.69L242.80 52.67L243.27 52.65L243.74 52.63L244.21 52.61L244.68 52.60L245.15 52.58L245.62 52.56L246.09 52.55L246.56 52.53L247.02 52.51L247.49 52.49L247.96 52.48L248.43 52.46L248.90 52.44L249.37 52.43L249.84 52.41L250.31 52.39L250.78 52.38L251.25 52.36L251.72 52.34L252.19 52.33L252.66 52.31L253.13 52.30L253.60 52.28L254.07 52.27L254.54 52.25L255.01 52.23L255.48 52.22L255.95 52.20L256.42 52.19L256.89 52.17L257.36 52.16L257.83 52.15L258.30 52.13L258.77 52.12L259.23 52.10L259.70 52.09L260.17 52.08L260.64 52.06L261.11 52.05L261.58 52.04L262.05 52.02L262.52 52.01L262.99 52.00L263.46 51.98L263.93 51.97L264.40 51.96L264.87 51.95L265.34 51.94L265.81 51.92L266.28 51.91L266.75 51.90L267.22 51.89L267.69 51.88L268.16 51.87L268.63 51.86L269.10 51.85L269.57 51.84L270.04 51.83L270.51 51.82L270.98 51.81L271.44 51.80L271.91 51.79L272.38 51.79L272.85 51.78L273.32 51.77L273.79 51.76L274.26 51.76L274.73 51.75L275.20 51.74L275.67 51.73L276.14 51.73L276.61 51.72L277.08 51.72L277.55 51.71L278.02 51.71L278.49 51.70L278.96 51.70L279.43 51.69L279.90 51.69L280.37 51.68L280.84 51.68L281.31 51.67L281.78 51.67L282.25 51.66L282.72 51.66L283.19 51.66L283.65 51.65L284.12 51.65L284.59 51.64L285.06 51.64L285.53 51.63L286.00 51.63L286.47 51.62L286.94 51.62L287.41 51.62L287.88 51.61L288.35 51.61L288.82 51.60L289.29 51.60L289.76 51.60L290.23 51.59L290.70 51.59L291.17 51.58L291.64 51.58L292.11 51.58L292.58 51.57L293.05 51.57L293.52 51.57L293.99 51.56L294.46 51.56L294.93 51.55L295.39 51.55L295.86 51.55L296.33 51.54L296.80 51.54L297.27 51.54L297.74 51.53L298.21 51.53L298.68 51.53L299.15 51.52L299.62 51.52L300.09 51.52L300.56 51.52L301.03 51.51L301.50 51.51L301.97 51.51L302.44 51.50L302.91 51.50L303.38 51.50L303.85 51.50L304.32 51.49L304.79 51.49L305.26 51.49L305.73 51.49L306.20 51.48L306.67 51.48L307.14 51.48L307.60 51.48L308.07 51.48L308.54 51.47L309.01 51.47L309.48 51.47L309.95 51.47L310.42 51.47L310.89 51.47L311.36 51.46L311.83 51.46L312.30 51.46L312.77 51.46L313.24 51.46L313.71 51.46L314.18 51.46L314.65 51.46L315.12 51.45L315.59 51.45L316.06 51.45L316.53 51.45L317.00 51.45L317.47 51.45L317.94 51.45L318.41 51.45L318.88 51.45L319.35 51.45L319.81 51.45L320.28 51.45L320.75 51.45L321.22 51.45L321.69 51.45L322.16 51.45L322.63 51.45L323.10 51.45L323.57 51.45L324.04 51.45L324.51 51.46L324.98 51.46L325.45 51.46L325.92 51.46L326.39 51.46L326.86 51.46L327.33 51.46L327.80 51.47L328.27 51.47L328.74 51.47L329.21 51.47L329.68 51.47L330.15 51.48L330.62 51.48L331.09 51.48L331.56 51.48L332.02 51.49L332.49 51.49L332.96 51.49L333.43 51.49L333.90 51.50L334.37 51.50L334.84 51.50L335.31 51.50L335.78 51.51L336.25 51.51L336.72 51.51L337.19 51.52L337.66 51.52L338.13 51.52L338.60 51.52L339.07 51.53L339.54 51.53L340.01 51.53L340.48 51.54L340.95 51.54L341.42 51.54L341.89 51.55L342.36 51.55L342.83 51.55L343.30 51.56L343.77 51.56L344.23 51.56L344.70 51.57L345.17 51.57L345.64 51.57L346.11 51.57L346.58 51.58L347.05 51.58L347.52 51.58L347.99 51.59L348.46 51.59L348.93 51.59L349.40 51.60L349.87 51.60L350.34 51.60L350.81 51.61L351.28 51.61L351.75 51.61L352.22 51.61L352.69 51.62L353.16 51.62L353.63 51.62L354.10 51.63L354.57 51.63L355.04 51.63L355.51 51.64L355.98 51.64L356.44 51.64L356.91 51.65L357.38 51.65L357.85 51.65L358.32 51.66L358.79 51.66L359.26 51.66L359.73 51.67L360.20 51.67L360.67 51.67L361.14 51.68L361.61 51.68L362.08 51.68L362.55 51.69L363.02 51.69L363.49 51.69L363.96 51.70L364.43 51.70L364.90 51.71L365.37 51.71L365.84 51.71L366.31 51.72L366.78 51.72L367.25 51.72L367.72 51.73L368.19 51.73L368.65 51.74L369.12 51.74L369.59 51.74L370.06 51.75L370.53 51.75L371.00 51.76L371.47 51.76L371.94 51.76L372.41 51.77L372.88 51.77L373.35 51.78L373.82 51.78L374.29 51.78L374.76 51.79L375.23 51.79L375.70 51.80L376.17 51.80L376.64 51.81L377.11 51.81L377.58 51.81L378.05 51.82L378.52 51.82L378.99 51.83L379.46 51.83L379.93 51.84L380.40 51.84L380.86 51.85L381.33 51.85L381.80 51.85L382.27 51.86L382.74 51.86L383.21 51.87L383.68 51.87L384.15 51.88L384.62 51.88L385.09 51.89L385.56 51.89L386.03 51.90L386.50 51.90" stroke="#0000ff" stroke-dasharray="1.45 1.5"/>
</g>
<!-- data points -->
<g fill="#000">
<circle cx="66.1" cy="232.2" r="2.7"/><circle cx="71.1" cy="222.6" r="2.7"/><circle cx="74.3" cy="210.4" r="2.7"/><circle cx="101.8" cy="118.8" r="2.7"/><circle cx="129.6" cy="75.4" r="2.7"/><circle cx="182.4" cy="50.1" r="2.7"/><circle cx="212.8" cy="44.4" r="2.7"/>
</g>
<!-- legend -->
<g fill="none" stroke-width="2">
<path d="M342 183.0H373.1" stroke="#ff0000"/>
<path d="M342 194.3H373.1" stroke="#00ff00" stroke-dasharray="2.2 1.2"/>
<path d="M342 205.7H373.1" stroke="#0000ff" stroke-dasharray="1.45 1.5"/>
<path d="M342 217.0H373.1" stroke="#ff00ff" stroke-opacity="0.22"/>
<path d="M342 217.0H373.1" stroke="#ff00ff" stroke-opacity="0.72" stroke-dasharray="1.7 1.65"/>
</g>
<circle cx="357.4" cy="227.5" r="2.7" fill="#000"/>
<g>
<text x="335.1" y="187.30" text-anchor="end" font-size="12.35">Einstein</text>
<text x="335.1" y="198.60" text-anchor="end" font-size="12.35">Debye</text>
<text x="335.1" y="209.90" text-anchor="end" font-size="12.35">q=1.04</text>
<text x="335.1" y="221.20" text-anchor="end" font-size="12.35">q=1.06</text>
<text x="335.1" y="232.10" text-anchor="end" font-size="12.35">Experimental Data</text>
</g>
<!-- frame -->
<rect x="55.50" y="14.10" width="331.00" height="223.20" fill="none" stroke="#000" stroke-width="1.15"/>
<!-- tick labels -->
<g font-size="11">
<text x="48.5" y="241.25" text-anchor="end">0</text>
<text x="48.5" y="200.65" text-anchor="end">0.2</text>
<text x="48.5" y="160.05" text-anchor="end">0.4</text>
<text x="48.5" y="119.45" text-anchor="end">0.6</text>
<text x="48.5" y="78.85" text-anchor="end">0.8</text>
<text x="48.5" y="38.25" text-anchor="end">1</text>
<text x="56.90" y="252.3" text-anchor="middle">0</text>
<text x="139.65" y="252.3" text-anchor="middle">0.5</text>
<text x="222.40" y="252.3" text-anchor="middle">1</text>
<text x="305.15" y="252.3" text-anchor="middle">1.5</text>
<text x="387.90" y="252.3" text-anchor="middle">2</text>
</g>
<!-- axis titles -->
<text x="178.7" y="268.7" font-size="11">k</text>
<text x="184.5" y="272.09999999999997" font-size="9.2">B</text>
<text x="194.1" y="268.7" font-size="11">T</text>
<text x="204.0" y="268.7" font-size="11">/</text>
<text x="210.2" y="268.7" font-size="11">&#295;</text>
<text x="219.2" y="268.7" font-size="11">&#969;</text>
<text x="229.9" y="268.7" font-size="11">=</text>
<text x="240.3" y="268.7" font-size="11">T</text>
<text x="249.9" y="268.7" font-size="11">/</text>
<text x="256.3" y="268.7" font-size="11">&#952;</text>
<text transform="translate(10.3 149.5) rotate(-90)" font-size="11">C</text>
<text transform="translate(11.9 141.4) rotate(-90)" font-size="9.5">V</text>
<text transform="translate(10.3 131.3) rotate(-90)" font-size="11">/</text>
<text transform="translate(10.3 124.8) rotate(-90)" font-size="11">3</text>
<text transform="translate(10.3 116.6) rotate(-90)" font-size="11">R</text>
</svg>
</body>
</html>
